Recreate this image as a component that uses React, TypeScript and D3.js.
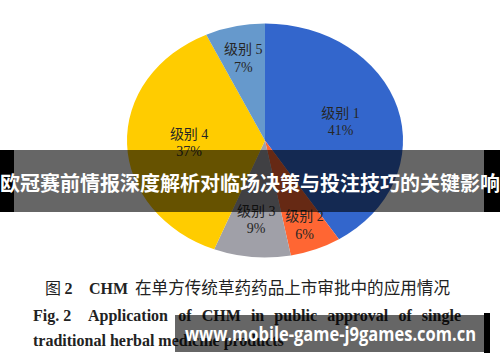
import React, { useLayoutEffect, useRef } from "react";
import * as d3 from "d3";

const categories = ["级别 1", "级别 2", "级别 3", "级别 4", "级别 5"];
const values = [41, 6, 9, 37, 7];
const labels = ["41%", "6%", "9%", "37%", "7%"];
const colors = ["#3366CC", "#FF6633", "#A0A0A8", "#FFCC00", "#6699CC"];
const labelRadius = [0.57, 0.78, 0.68, 0.55, 0.72];

const bannerText = "欧冠赛前情报深度解析对临场决策与投注技巧的关键影响";
const captionCn = "在单方传统草药药品上市审批中的应用情况";
const captionEn1 = "Application of CHM in public approval of single";
const captionEn2 = "traditional herbal medicine products";
const watermark = "www.mobile-game-j9games.com.cn";

const W = 500;
const H = 362;
const cx = 265;
const cy = 140.5;
const rx = 138;
const ry = 117;

export default function App() {
  const line1Ref = useRef<SVGTextElement>(null);

  useLayoutEffect(() => {
    const el = line1Ref.current;
    if (!el) return;
    const x0 = 88;
    const target = 461 - x0;
    el.setAttribute("word-spacing", "0");
    const natural = el.getComputedTextLength();
    const spaces = (el.textContent || "").split(" ").length - 1;
    if (spaces > 0) el.setAttribute("word-spacing", String((target - natural) / spaces));
  }, []);

  const pie = d3.pie<number>().sort(null).value((d) => d)(values);
  const arc = d3.arc<d3.PieArcDatum<number>>().innerRadius(0).outerRadius(rx);
  const sy = ry / rx;

  const serif = "'Liberation Serif', 'Times New Roman', 'Noto Sans CJK SC', serif";
  const cjk = "'Noto Sans CJK SC', sans-serif";

  return (
    <svg width={W} height={H} style={{ position: "absolute", left: 0, top: 0 }}>
      <rect width={W} height={H} fill="#fff" />
      <g transform={`translate(${cx},${cy}) scale(1,${sy})`}>
        {pie.map((p, i) => (
          <path key={i} d={arc(p) || ""} fill={colors[i]} />
        ))}
      </g>
      {pie.map((p, i) => {
        const r = labelRadius[i] * rx;
        const c = d3.arc<d3.PieArcDatum<number>>().innerRadius(r).outerRadius(r).centroid(p);
        const x = cx + c[0];
        const y = cy + c[1] * sy;
        return (
          <g key={i} fontFamily={serif} fontSize={14} fill="#262626" textAnchor="middle">
            <text x={x} y={y - 4}>{categories[i]}</text>
            <text x={x} y={y + 13.5}>{labels[i]}</text>
          </g>
        );
      })}

      {/* banner */}
      <rect x={0} y={150} width={14} height={62} fill="#000" />
      <rect x={484} y={150} width={16} height={62} fill="#000" />
      <rect x={14} y={150} width={470} height={62} fill="rgba(0,0,0,0.6)" />
      <text
        x={250}
        y={182}
        textAnchor="middle"
        dominantBaseline="central"
        fill="#fff"
        fontWeight="bold"
        fontSize={20}
        fontFamily={cjk}
        textLength={500}
        lengthAdjust="spacingAndGlyphs"
      >
        {bannerText}
      </text>

      {/* caption */}
      <text x={45} y={294} fontFamily={serif} fontSize={16} fill="#222">
        <tspan fontFamily={cjk}>图 </tspan>
        <tspan fontWeight="bold">2</tspan>
        <tspan x={89} fontWeight="bold">CHM</tspan>
      </text>
      <text x={135} y={294} fontFamily={cjk} fontSize={16.5} fill="#222" textLength={315} lengthAdjust="spacingAndGlyphs">
        {captionCn}
      </text>
      <text x={33} y={321} fontFamily={serif} fontSize={16} fontWeight="bold" fill="#222">
        Fig. 2
      </text>
      <text ref={line1Ref} x={88} y={321} fontFamily={serif} fontSize={16} fontWeight="bold" fill="#222">
        {captionEn1}
      </text>
      <text x={33} y={346} fontFamily={serif} fontSize={16} fontWeight="bold" fill="#222">
        {captionEn2}
      </text>

      {/* watermark */}
      <rect x={175} y={315} width={309} height={37} fill="rgba(0,0,0,0.6)" />
      <rect x={484} y={313} width={6} height={40} fill="#000" />
      <text
        x={185}
        y={341}
        fill="#fff"
        fontWeight="bold"
        fontSize={19}
        fontFamily="'Open Sans', 'DejaVu Sans', sans-serif"
        textLength={291}
        lengthAdjust="spacingAndGlyphs"
      >
        {watermark}
      </text>
    </svg>
  );
}
